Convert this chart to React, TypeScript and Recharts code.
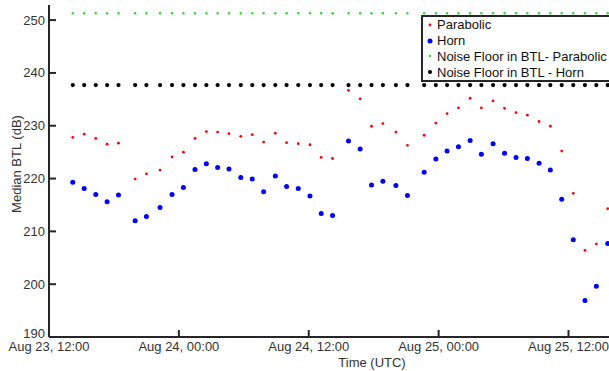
import React from 'react';
import { ScatterChart, Scatter, XAxis, YAxis, Legend } from 'recharts';

// hours after Aug 23, 12:00 UTC
const hours = [
  2.2, 3.25, 4.32, 5.37, 6.42, 7.96, 9.0, 10.26, 11.37, 12.42, 13.49, 14.54,
  15.58, 16.63, 17.72, 18.78, 19.83, 20.91, 21.95, 23.03, 24.11, 25.15, 26.2,
  27.67, 28.75, 29.8, 30.85, 32.05, 33.12, 34.66, 35.74, 36.78, 37.83, 38.91,
  39.95, 41.03, 42.09, 43.15, 44.2, 45.28, 46.32, 47.37, 48.44, 49.52, 50.57,
  51.62,
];

const parabolic = [
  227.8, 228.4, 227.6, 226.5, 226.7, 219.9, 220.9, 221.6, 224.1, 225.0, 227.6,
  228.9, 228.8, 228.5, 228.0, 228.3, 226.9, 228.6, 226.8, 226.6, 226.4, 224.0,
  223.8, 236.7, 235.1, 229.9, 230.4, 228.8, 226.3, 228.2, 230.5, 232.3, 233.4,
  235.2, 233.4, 234.7, 233.3, 232.5, 232.0, 230.8, 229.9, 225.2, 217.2, 206.4,
  207.6, 214.3,
];

const horn = [
  219.3, 218.1, 217.0, 215.6, 216.9, 212.0, 212.8, 214.5, 217.0, 218.3, 221.7,
  222.8, 222.1, 221.8, 220.2, 219.9, 217.5, 220.5, 218.5, 218.1, 216.7, 213.4,
  213.0, 227.1, 225.6, 218.8, 219.5, 218.7, 216.8, 221.2, 223.7, 225.2, 226.0,
  227.2, 224.6, 226.6, 224.8, 224.0, 223.8, 222.9, 221.6, 216.1, 208.4, 196.9,
  199.6, 207.7,
];

const noiseFloorParabolic = 251.3;
const noiseFloorHorn = 237.7;

const seriesNames = [
  'Parabolic',
  'Horn',
  'Noise Floor in BTL- Parabolic',
  'Noise Floor in BTL - Horn',
];

const xTicks = [0, 12, 24, 36, 48];
const xTickLabels = [
  'Aug 23, 12:00',
  'Aug 24, 00:00',
  'Aug 24, 12:00',
  'Aug 25, 00:00',
  'Aug 25, 12:00',
];
const yTicks = [190, 200, 210, 220, 230, 240, 250];

const parabolicData = hours.map((t, i) => ({ t, v: parabolic[i] }));
const hornData = hours.map((t, i) => ({ t, v: horn[i] }));
const noiseParabolicData = hours.map((t) => ({ t, v: noiseFloorParabolic }));
const noiseHornData = hours.map((t) => ({ t, v: noiseFloorHorn }));

const AXIS = '#262626';
const TEXT = '#333';
const FONT = '"Liberation Sans", Arial, sans-serif';

const radius: Record<string, number> = {
  Parabolic: 1.4,
  Horn: 2.5,
  'Noise Floor in BTL- Parabolic': 1.2,
  'Noise Floor in BTL - Horn': 2.1,
};

const dot = (r: number, fill: string) => (props: any) =>
  <circle cx={props.cx} cy={props.cy} r={r} fill={fill} />;

const XTick = (p: any) => {
  const i = xTicks.indexOf(p.payload.value);
  return (
    <g>
      <line x1={p.x} x2={p.x} y1={p.y - 5} y2={p.y - 12} stroke={AXIS} strokeWidth={2} />
      <text x={p.x} y={p.y} dy="0.71em" textAnchor="middle" fontSize={13} fill={TEXT} fontFamily={FONT}>
        {xTickLabels[i]}
      </text>
    </g>
  );
};

const YTick = (p: any) => {
  // the bottom label sits a little higher so it clears the date labels
  const lift = p.payload.value === yTicks[0] ? -4 : 0;
  return (
    <g>
      <line x1={p.x + 4} x2={p.x + 11} y1={p.y} y2={p.y} stroke={AXIS} strokeWidth={2} />
      <text x={p.x} y={p.y + lift} dy="0.35em" textAnchor="end" fontSize={13} fill={TEXT} fontFamily={FONT}>
        {p.payload.value}
      </text>
    </g>
  );
};

const renderLegend = (props: any) => {
  const items = [...(props.payload || [])].sort(
    (a: any, b: any) => seriesNames.indexOf(a.value) - seriesNames.indexOf(b.value)
  );
  return (
    <div
      style={{
        border: `2px solid ${AXIS}`,
        background: '#fff',
        width: 210,
        fontFamily: FONT,
        fontSize: 13,
        color: '#111',
      }}
    >
      {items.map((e: any) => (
        <div key={e.value} style={{ display: 'flex', alignItems: 'center', height: 15.8 }}>
          <svg width={14} height={10}>
            <circle cx={7} cy={5} r={radius[e.value]} fill={e.color} />
          </svg>
          <span>{e.value}</span>
        </div>
      ))}
    </div>
  );
};

export default function App() {
  return (
    <div style={{ position: 'absolute', left: 0, top: 0, background: '#fff', width: 609, height: 371, overflow: 'hidden' }}>
      <ScatterChart width={609} height={371} margin={{ top: 5, right: 0, bottom: 0, left: 0 }}>
        <XAxis
          type="number"
          dataKey="t"
          domain={[0, 51.74]}
          ticks={xTicks}
          allowDataOverflow
          height={34}
          tickSize={0}
          tickMargin={5}
          tickLine={false}
          tick={<XTick />}
          axisLine={{ stroke: AXIS, strokeWidth: 2 }}
          label={{
            content: () => (
              <text x={372} y={367} textAnchor="middle" fontSize={13} fill={TEXT} fontFamily={FONT}>
                Time (UTC)
              </text>
            ),
          }}
        />
        <YAxis
          type="number"
          dataKey="v"
          domain={[190, 252.86]}
          ticks={yTicks}
          allowDataOverflow
          width={49}
          tickSize={0}
          tickMargin={4}
          tickLine={false}
          tick={<YTick />}
          axisLine={{ stroke: AXIS, strokeWidth: 2 }}
          label={{
            content: () => (
              <text
                transform="translate(21,164) rotate(-90)"
                textAnchor="middle"
                fontSize={13}
                fill={TEXT}
                fontFamily={FONT}
              >
                Median BTL (dB)
              </text>
            ),
          }}
        />
        <Legend
          layout="horizontal"
          verticalAlign="middle"
          align="center"
          content={renderLegend}
          wrapperStyle={{ position: 'absolute', left: 421, top: 15, width: 210 }}
        />
        <Scatter
          name="Parabolic"
          data={parabolicData}
          fill="#ff0000"
          shape={dot(1.4, '#ff0000')}
          isAnimationActive={false}
        />
        <Scatter
          name="Horn"
          data={hornData}
          fill="#0000ff"
          shape={dot(2.5, '#0000ff')}
          isAnimationActive={false}
        />
        <Scatter
          name="Noise Floor in BTL- Parabolic"
          data={noiseParabolicData}
          fill="#22dd22"
          shape={dot(1.2, '#22dd22')}
          isAnimationActive={false}
        />
        <Scatter
          name="Noise Floor in BTL - Horn"
          data={noiseHornData}
          fill="#000000"
          shape={dot(2.1, '#000000')}
          isAnimationActive={false}
        />
      </ScatterChart>
    </div>
  );
}
